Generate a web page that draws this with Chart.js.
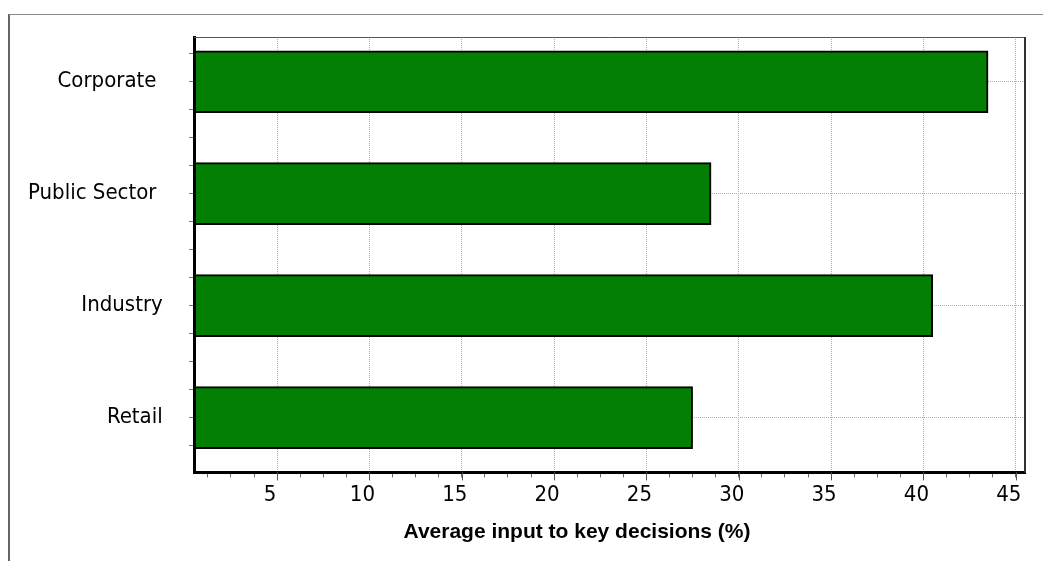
<!DOCTYPE html>
<html>
<head>
<meta charset="utf-8">
<script src="https://cdn.jsdelivr.net/npm/chart.js@4.4.1/dist/chart.umd.min.js"></script>
<style>
  html, body { margin: 0; padding: 0; background: #fff; }
  #wrap { position: relative; width: 1043px; height: 561px; overflow: hidden; }
  #frame { position: absolute; left: 8px; top: 14px; right: 0; bottom: 0;
           border-top: 1px solid #8a8a8a; border-left: 2px solid #666; }
  canvas { position: absolute; left: 0; top: 0; }
</style>
</head>
<body>
<div id="wrap"><div id="frame"></div><canvas id="c" width="1043" height="561"></canvas></div>
<script>
// Sectors, top to bottom
const categories = ['Corporate ', 'Public Sector ', 'Industry', 'Retail'];
// Average input to key decisions, percent
const inputShare = [43.5, 28.5, 40.5, 27.5];
// Labelled values on the horizontal axis
const xMajorTicks = [5, 10, 15, 20, 25, 30, 35, 40, 45];
const axisTitle = 'Average input to key decisions (%)';

const LABEL_FONT = { family: "'DejaVu Sans Condensed', 'DejaVu Sans', sans-serif", size: 22 };
const GRID_COLOR = '#adadad';

// evenly spaced tick values inside [min, max]
function stepTicks(min, max, step) {
  const out = [];
  for (let k = Math.ceil(min / step - 1e-9); k * step <= max + 1e-9; k++) {
    out.push({ value: Math.round(k * step * 1000) / 1000 });
  }
  return out;
}

// box edges on top/right of the plot and longer marks at labelled x ticks
const plotFrame = {
  id: 'plotFrame',
  afterDraw(chart) {
    const { ctx, chartArea: a } = chart;
    const x = chart.scales.x;
    ctx.save();
    ctx.strokeStyle = '#555';
    ctx.lineWidth = 1;
    ctx.beginPath();
    ctx.moveTo(a.left, a.top + 0.5);
    ctx.lineTo(a.right, a.top + 0.5);
    ctx.stroke();
    ctx.strokeStyle = '#333';
    ctx.lineWidth = 2;
    ctx.beginPath();
    ctx.moveTo(a.right, a.top);
    ctx.lineTo(a.right, a.bottom);
    ctx.stroke();
    ctx.strokeStyle = '#555';
    ctx.lineWidth = 1;
    x.ticks.forEach(t => {
      if (xMajorTicks.includes(t.value)) {
        const px = Math.round(x.getPixelForValue(t.value)) + 0.5;
        ctx.beginPath();
        ctx.moveTo(px, a.bottom);
        ctx.lineTo(px, a.bottom + 8);
        ctx.stroke();
      }
    });
    ctx.restore();
  }
};

new Chart(document.getElementById('c'), {
  type: 'bar',
  data: {
    datasets: [{
      data: categories.map((c, i) => ({ y: i + 1, x: inputShare[i] })),
      backgroundColor: '#038003',
      borderColor: '#000',
      borderWidth: 2,
      barThickness: 62,
      clip: 0
    }]
  },
  options: {
    indexAxis: 'y',
    responsive: false,
    animation: false,
    devicePixelRatio: 1,
    layout: { padding: { left: 129, right: 18, top: 37, bottom: 0 } },
    plugins: {
      legend: { display: false },
      tooltip: { enabled: false },
      title: {
        display: true,
        text: axisTitle,
        position: 'bottom',
        color: '#000',
        font: { family: "'Liberation Sans', Arial, sans-serif", size: 21, weight: 'bold' },
        padding: { top: 6, bottom: 16 }
      }
    },
    scales: {
      x: {
        type: 'linear',
        min: 0.5,
        max: 45.5,
        offset: false,
        afterBuildTicks: s => { s.ticks = stepTicks(s.min, s.max, 1.25); },
        ticks: {
          autoSkip: false,
          maxRotation: 0,
          padding: 5,
          labelOffset: -7,
          color: '#000',
          font: LABEL_FONT,
          callback: v => xMajorTicks.includes(v) ? String(v) : ''
        },
        grid: {
          offset: false,
          color: c => (c.tick && xMajorTicks.includes(c.tick.value)) ? GRID_COLOR : 'rgba(0,0,0,0)',
          lineWidth: 1,
          tickColor: '#666',
          tickLength: 5
        },
        border: { display: true, color: '#000', width: 3, dash: [1, 1], z: 1 }
      },
      y: {
        type: 'linear',
        reverse: true,
        min: 0.6,
        max: 4.49,
        offset: false,
        afterBuildTicks: s => { s.ticks = stepTicks(s.min, s.max, 0.25); },
        afterFit: s => { s.width = 65; },
        ticks: {
          autoSkip: false,
          mirror: true,
          crossAlign: 'far',
          padding: -166,
          color: '#000',
          font: LABEL_FONT,
          callback: v => Number.isInteger(v) ? categories[v - 1] : ''
        },
        grid: {
          offset: false,
          color: c => (c.tick && Number.isInteger(c.tick.value)) ? GRID_COLOR : 'rgba(0,0,0,0)',
          lineWidth: 1,
          tickColor: '#777',
          tickLength: 5
        },
        border: { display: true, color: '#000', width: 3, dash: [1, 1], z: 1 }
      }
    }
  },
  plugins: [plotFrame]
});
</script>
</body>
</html>
